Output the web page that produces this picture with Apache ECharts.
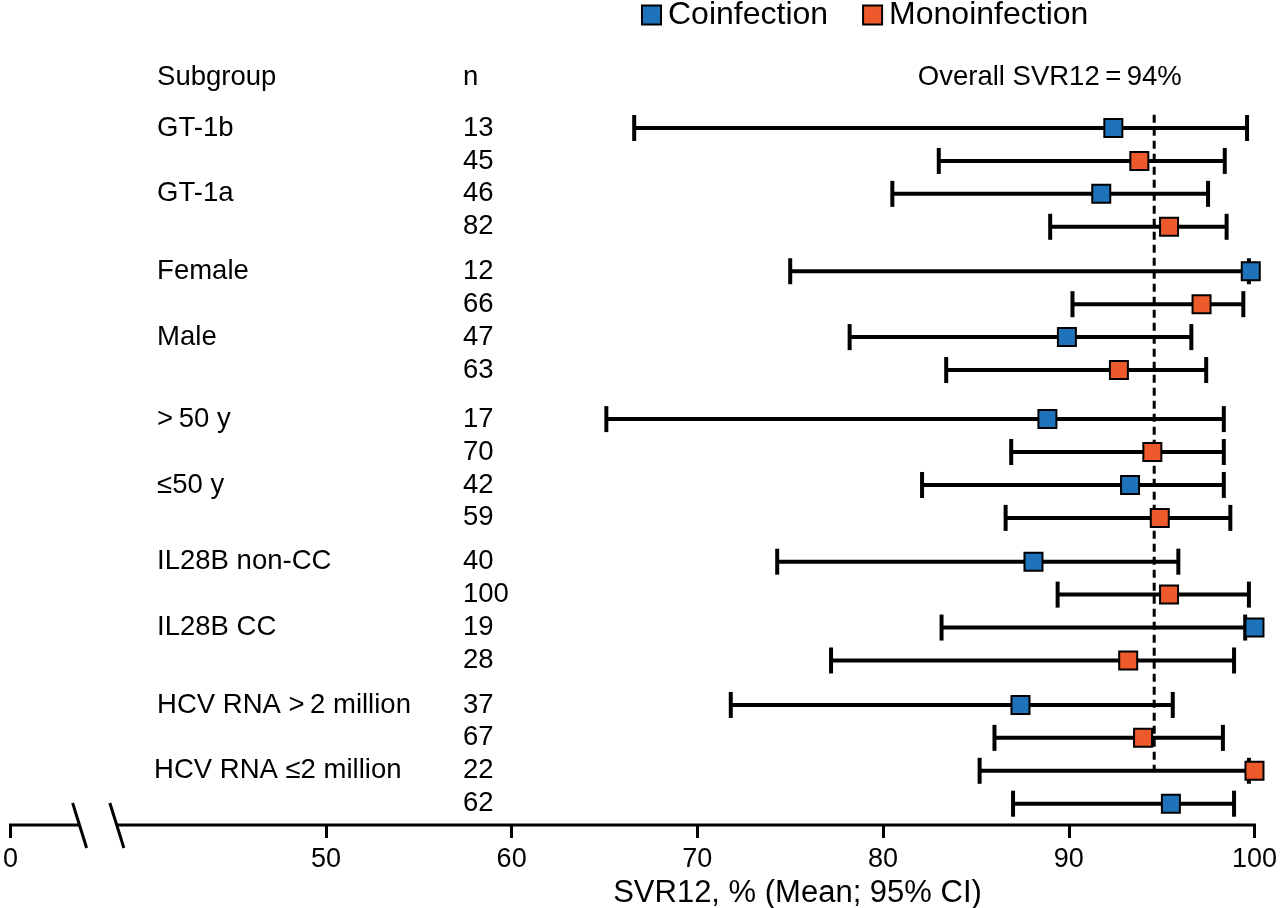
<!DOCTYPE html>
<html>
<head>
<meta charset="utf-8">
<script src="https://cdn.jsdelivr.net/npm/echarts@6/dist/echarts.min.js"></script>
<style>
html,body{margin:0;padding:0;background:#fff;}
#chart{width:1280px;height:908px;}
</style>
</head>
<body>
<div id="chart"></div>
<script>
// ---------------- data ----------------
const subgroupNames = ['GT-1b', 'GT-1a', 'Female', 'Male', '>\u200950 y', '\u226450 y',
  'IL28B non-CC', 'IL28B CC', 'HCV RNA >\u20092 million', 'HCV RNA \u22642 million'];
const nValues = [13, 45, 46, 82, 12, 66, 47, 63, 17, 70, 42, 59, 40, 100, 19, 28, 37, 67, 22, 62];
const cohorts = ['Coinfection', 'Monoinfection', 'Coinfection', 'Monoinfection',
  'Coinfection', 'Monoinfection', 'Coinfection', 'Monoinfection',
  'Coinfection', 'Monoinfection', 'Coinfection', 'Monoinfection',
  'Coinfection', 'Monoinfection', 'Coinfection', 'Monoinfection',
  'Coinfection', 'Monoinfection', 'Monoinfection', 'Coinfection'];
const means = [92.4, 93.8, 91.75, 95.4, 99.8, 97.15, 89.9, 92.7, 88.85, 94.5,
  93.3, 94.9, 88.1, 95.4, 100, 93.2, 87.4, 94.0, 100, 95.5];
const lows = [66.6, 83.0, 80.5, 89.0, 75.0, 90.2, 78.2, 83.4, 65.1, 86.9,
  82.1, 86.6, 74.3, 89.4, 83.15, 77.2, 71.8, 86.0, 85.2, 87.0];
const highs = [99.6, 98.4, 97.5, 98.5, 99.7, 99.4, 96.6, 97.4, 98.35, 98.35,
  98.35, 98.7, 95.9, 99.7, 99.5, 98.9, 95.6, 98.3, 99.7, 98.9];
const overallSVR = 94.6;
const overallText = 'Overall SVR12\u2009=\u200994%';
const tickValues = [0, 50, 60, 70, 80, 90, 100];
const colors = { Coinfection: '#1F73BA', Monoinfection: '#EE5A2C' };

// ---------------- layout ----------------
const FONT = '"Liberation Sans", Arial, Helvetica, sans-serif';
const PX0 = 7.4;          // pixel of "0"
const PX50 = 325;         // pixel of 50
const PX100 = 1260;       // pixel of 100
const PXU = (PX100 - PX50) / 50;
const X0 = 50 - (PX50 - PX0) / PXU;  // axis coordinate standing for 0 (axis break)
const toAxisX = px => X0 + (px - PX0) / PXU;
const mapTick = v => (v < 50 ? X0 : v);
const Y0 = 128, ROW = 32.93, AXIS_Y = 825;
const groupGap = [0, 0.35, 0.84, 1.17, 1.52];
const rowPos = i => i + groupGap[Math.floor(i / 4)];
const yMin = -2.2, yMax = (AXIS_Y - Y0) / ROW;
const headerPos = (77 - Y0) / ROW;
const breakA = toAxisX(77), breakB = toAxisX(114.5);

const rows = nValues.map((n, i) => i);
const barData = rows.map(i => [lows[i], highs[i], rowPos(i)]);
const ptData = name => rows.filter(i => cohorts[i] === name).map(i => [means[i], rowPos(i)]);

const subgroupLabelData = subgroupNames.map((s, k) => ({ value: [toAxisX(k === 9 ? 152 : 155), rowPos(k * 2)], name: s }));
subgroupLabelData.push({ value: [toAxisX(155), headerPos], name: 'Subgroup' });
const nLabelData = rows.map(i => ({ value: [toAxisX(463), rowPos(i)], name: String(nValues[i]) }));
nLabelData.push({ value: [toAxisX(463), headerPos], name: 'n' });
nLabelData.push({ value: [toAxisX(921), headerPos], name: overallText });

const chart = echarts.init(document.getElementById('chart'), null, { renderer: 'canvas' });
const textSeries = (name, data) => ({
  type: 'scatter', name, data, symbolSize: 0, silent: true, z: 1,
  itemStyle: { opacity: 1 },
  label: { show: true, position: 'inside', align: 'left', verticalAlign: 'middle',
    formatter: p => p.name, fontFamily: FONT, fontSize: 27.5, color: '#000', opacity: 1 },
  tooltip: { show: false }
});

chart.setOption({
  animation: false,
  backgroundColor: '#fff',
  textStyle: { fontFamily: FONT },
  title: {
    text: 'SVR12, % (Mean; 95% CI)', left: (PX50 + PX100) / 2, top: 873, textAlign: 'center',
    textStyle: { fontFamily: FONT, fontSize: 31, fontWeight: 'normal', color: '#000' }
  },
  legend: {
    data: ['Coinfection', 'Monoinfection'], left: 636, top: -6, icon: 'rect',
    itemWidth: 19, itemHeight: 19, itemGap: 34,
    itemStyle: { borderColor: '#000', borderWidth: 2 },
    textStyle: { fontFamily: FONT, fontSize: 32, color: '#000', padding: [0, 0, 0, 2] }
  },
  grid: { left: PX0, right: 1280 - PX100, top: Y0 + yMin * ROW, bottom: 908 - AXIS_Y, containLabel: false },
  xAxis: {
    type: 'value', min: X0, max: 100, position: 'bottom',
    axisLine: { show: false, onZero: false },
    splitLine: { show: false },
    axisTick: { show: true, length: 13, inside: false, customValues: tickValues.map(mapTick),
      lineStyle: { color: '#000', width: 3 } },
    axisLabel: { show: true, customValues: tickValues.map(mapTick), margin: 21,
      formatter: v => (v < 50 ? '0' : String(Math.round(v))),
      fontFamily: FONT, fontSize: 27, color: '#000' }
  },
  yAxis: {
    type: 'value', min: yMin, max: yMax, inverse: true, show: false
  },
  series: [
    textSeries('subgroupText', subgroupLabelData),
    textSeries('nText', nLabelData),
    {
      type: 'custom', name: 'axisLineBreak', silent: true, z: 2,
      data: [[X0, breakA, breakB, 100]],
      renderItem: (params, api) => {
        const a = api.coord([api.value(0), yMax]);
        const b = api.coord([api.value(1), yMax]);
        const c = api.coord([api.value(2), yMax]);
        const d = api.coord([api.value(3), yMax]);
        const st = { stroke: '#000', lineWidth: 3 };
        return { type: 'group', children: [
          { type: 'line', shape: { x1: a[0] - 1.5, y1: a[1], x2: b[0], y2: b[1] }, style: st },
          { type: 'line', shape: { x1: c[0], y1: c[1], x2: d[0] + 1.5, y2: d[1] }, style: st },
          { type: 'line', shape: { x1: b[0] - 7, y1: b[1] - 22, x2: b[0] + 7, y2: b[1] + 23 }, style: st },
          { type: 'line', shape: { x1: c[0] - 7, y1: c[1] - 22, x2: c[0] + 7, y2: c[1] + 23 }, style: st }
        ] };
      }
    },
    {
      type: 'custom', name: 'CI', silent: true, z: 3,
      data: barData, encode: { x: [0, 1], y: 2 },
      renderItem: (params, api) => {
        const lo = api.coord([api.value(0), api.value(2)]);
        const hi = api.coord([api.value(1), api.value(2)]);
        const h = 13;
        const st = { stroke: '#000', lineWidth: 4 };
        return { type: 'group', children: [
          { type: 'line', shape: { x1: lo[0], y1: lo[1], x2: hi[0], y2: hi[1] }, style: st },
          { type: 'line', shape: { x1: lo[0], y1: lo[1] - h, x2: lo[0], y2: lo[1] + h }, style: st },
          { type: 'line', shape: { x1: hi[0], y1: hi[1] - h, x2: hi[0], y2: hi[1] + h }, style: st }
        ] };
      }
    },
    {
      type: 'line', name: 'overall', silent: true, z: 4,
      data: [[overallSVR, -0.4], [overallSVR, rowPos(18)]],
      symbol: 'none', lineStyle: { color: '#000', width: 3, type: [8, 5] }
    },
    {
      type: 'scatter', name: 'Coinfection', data: ptData('Coinfection'), z: 5,
      symbol: 'rect', symbolSize: 18,
      itemStyle: { color: colors.Coinfection, borderColor: '#000', borderWidth: 2, opacity: 1 }
    },
    {
      type: 'scatter', name: 'Monoinfection', data: ptData('Monoinfection'), z: 5,
      symbol: 'rect', symbolSize: 18,
      itemStyle: { color: colors.Monoinfection, borderColor: '#000', borderWidth: 2, opacity: 1 }
    }
  ]
});
</script>
</body>
</html>
